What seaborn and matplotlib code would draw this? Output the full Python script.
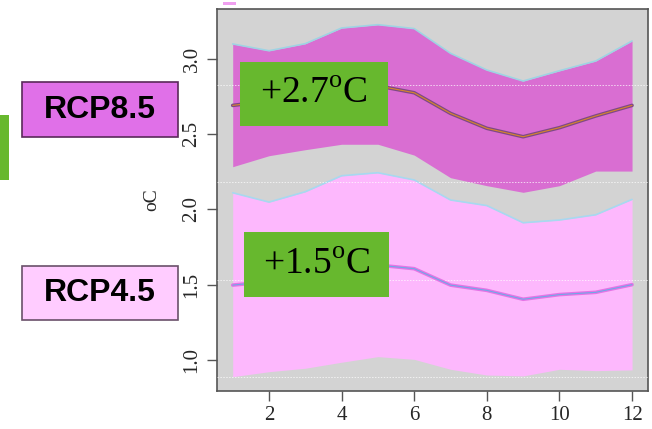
import numpy as np
import pandas as pd
import matplotlib
matplotlib.use("Agg")
import matplotlib.pyplot as plt
import seaborn as sns
from matplotlib.patches import Rectangle

# Monthly temperature change (oC)
months = list(range(1, 13))

rcp85_mean = [2.69, 2.72, 2.76, 2.80, 2.82, 2.774, 2.637, 2.538, 2.482, 2.542, 2.62, 2.69]
rcp85_upper = [3.098, 3.053, 3.10, 3.204, 3.226, 3.20, 3.036, 2.925, 2.852, 2.92, 2.985, 3.118]
rcp85_lower = [2.283, 2.356, 2.396, 2.432, 2.432, 2.36, 2.21, 2.157, 2.113, 2.157, 2.254, 2.254]

rcp45_mean = [1.497, 1.52, 1.56, 1.60, 1.63, 1.606, 1.497, 1.462, 1.403, 1.434, 1.449, 1.50]
rcp45_upper = [2.11, 2.048, 2.117, 2.223, 2.243, 2.195, 2.062, 2.025, 1.911, 1.929, 1.964, 2.066]
rcp45_lower = [0.889, 0.922, 0.945, 0.985, 1.022, 1.004, 0.938, 0.90, 0.894, 0.938, 0.929, 0.934]

ref_lines = [2.825, 2.18, 1.53, 0.885]

scenario_labels = ["RCP8.5", "RCP4.5"]
change_labels = [r"+2.7$^{\mathrm{o}}$C", r"+1.5$^{\mathrm{o}}$C"]
x_ticks = [2, 4, 6, 8, 10, 12]
y_ticks = [1.0, 1.5, 2.0, 2.5, 3.0]

df = pd.DataFrame({
    "month": months * 2,
    "temp": rcp85_mean + rcp45_mean,
    "scenario": ["RCP8.5"] * 12 + ["RCP4.5"] * 12,
})

sns.set_style("white")
plt.rcParams["mathtext.fontset"] = "custom"
plt.rcParams["mathtext.rm"] = "Liberation Serif"
plt.rcParams["font.family"] = ["Liberation Serif", "DejaVu Serif"]

fig = plt.figure(figsize=(6.52, 4.29), dpi=100)
ax = fig.add_axes([0.3324, 0.0893, 0.6615, 0.889])
ax.set_facecolor("#d3d3d3")

c85_band = "#d96ed2"
c45_band = "#fdb8fd"

ax.fill_between(months, rcp85_lower, rcp85_upper, color=c85_band, lw=0, zorder=1)
ax.plot(months, rcp85_upper, color="#9fd3e3", lw=1.2, zorder=2)
ax.fill_between(months, rcp45_lower, rcp45_upper, color=c45_band, lw=0, zorder=2.5)
ax.plot(months, rcp45_upper, color="#a8d8f0", lw=1.2, zorder=2.6)

for yv in ref_lines:
    ax.axhline(yv, color="white", lw=0.7, ls=(0, (1.5, 1.5)), alpha=0.7, zorder=3)

sns.lineplot(data=df, x="month", y="temp", hue="scenario",
             palette={"RCP8.5": "#7e4a86", "RCP4.5": "#e574e5"},
             lw=2.6, legend=False, ax=ax, zorder=4)
ax.plot(months, rcp85_mean, color="#d8862a", lw=0.8, zorder=5)
ax.plot(months, rcp45_mean, color="#6fa8e8", lw=0.8, zorder=5)

ax.set_xlim(0.56, 12.44)
ax.set_ylim(0.796, 3.328)
ax.set_xticks(x_ticks)
ax.set_xticklabels([str(v) for v in x_ticks], fontsize=15)
ax.set_yticks(y_ticks)
ax.set_yticklabels([f"{v:.1f}" for v in y_ticks], fontsize=15, rotation=90, va="center")
ax.tick_params(axis="both", direction="out", length=7, width=1, color="#555555",
               left=True, bottom=True, pad=4)
for s in ax.spines.values():
    s.set_color("#555555")
    s.set_linewidth(1.2)
ax.set_xlabel("")
ax.set_ylabel("oC", fontsize=14, labelpad=16)

# Change annotation boxes in data coordinates
green = "#67b82e"
for (x0, y0, x1, y1), lab in zip([(1.2, 2.55, 5.27, 2.98), (1.3, 1.42, 5.31, 1.85)], change_labels):
    ax.add_patch(Rectangle((x0, y0), x1 - x0, y1 - y0, facecolor=green, edgecolor="none", zorder=6))
    ax.text((x0 + x1) / 2, (y0 + y1) / 2, lab, ha="center", va="center",
            fontsize=27, color="black", zorder=7)

# Scenario labels in figure coordinates
W, H = 652, 429
def fig_rect(x0, y0, x1, y1, **kw):
    return Rectangle((x0 / W, 1 - y1 / H), (x1 - x0) / W, (y1 - y0) / H,
                     transform=fig.transFigure, **kw)

fig.patches.append(fig_rect(22.3, 82.3, 177.7, 137.3, facecolor="#e070e8", edgecolor="#5a2a5a", lw=1.2))
fig.patches.append(fig_rect(22.3, 265.7, 177.7, 320, facecolor="#ffccff", edgecolor="#6a506a", lw=1.2))
fig.patches.append(fig_rect(0, 115, 9, 180, facecolor=green, edgecolor="none"))
fig.patches.append(fig_rect(223, 2.5, 236, 4.8, facecolor="#f0a0f0", edgecolor="none"))

for lab, yc in zip(scenario_labels, [110, 293]):
    fig.text(100 / W, 1 - yc / H, lab, ha="center", va="center", fontsize=23,
             fontweight="bold", family=["Liberation Sans", "DejaVu Sans"], color="black")

fig.savefig("out.png", dpi=100)
